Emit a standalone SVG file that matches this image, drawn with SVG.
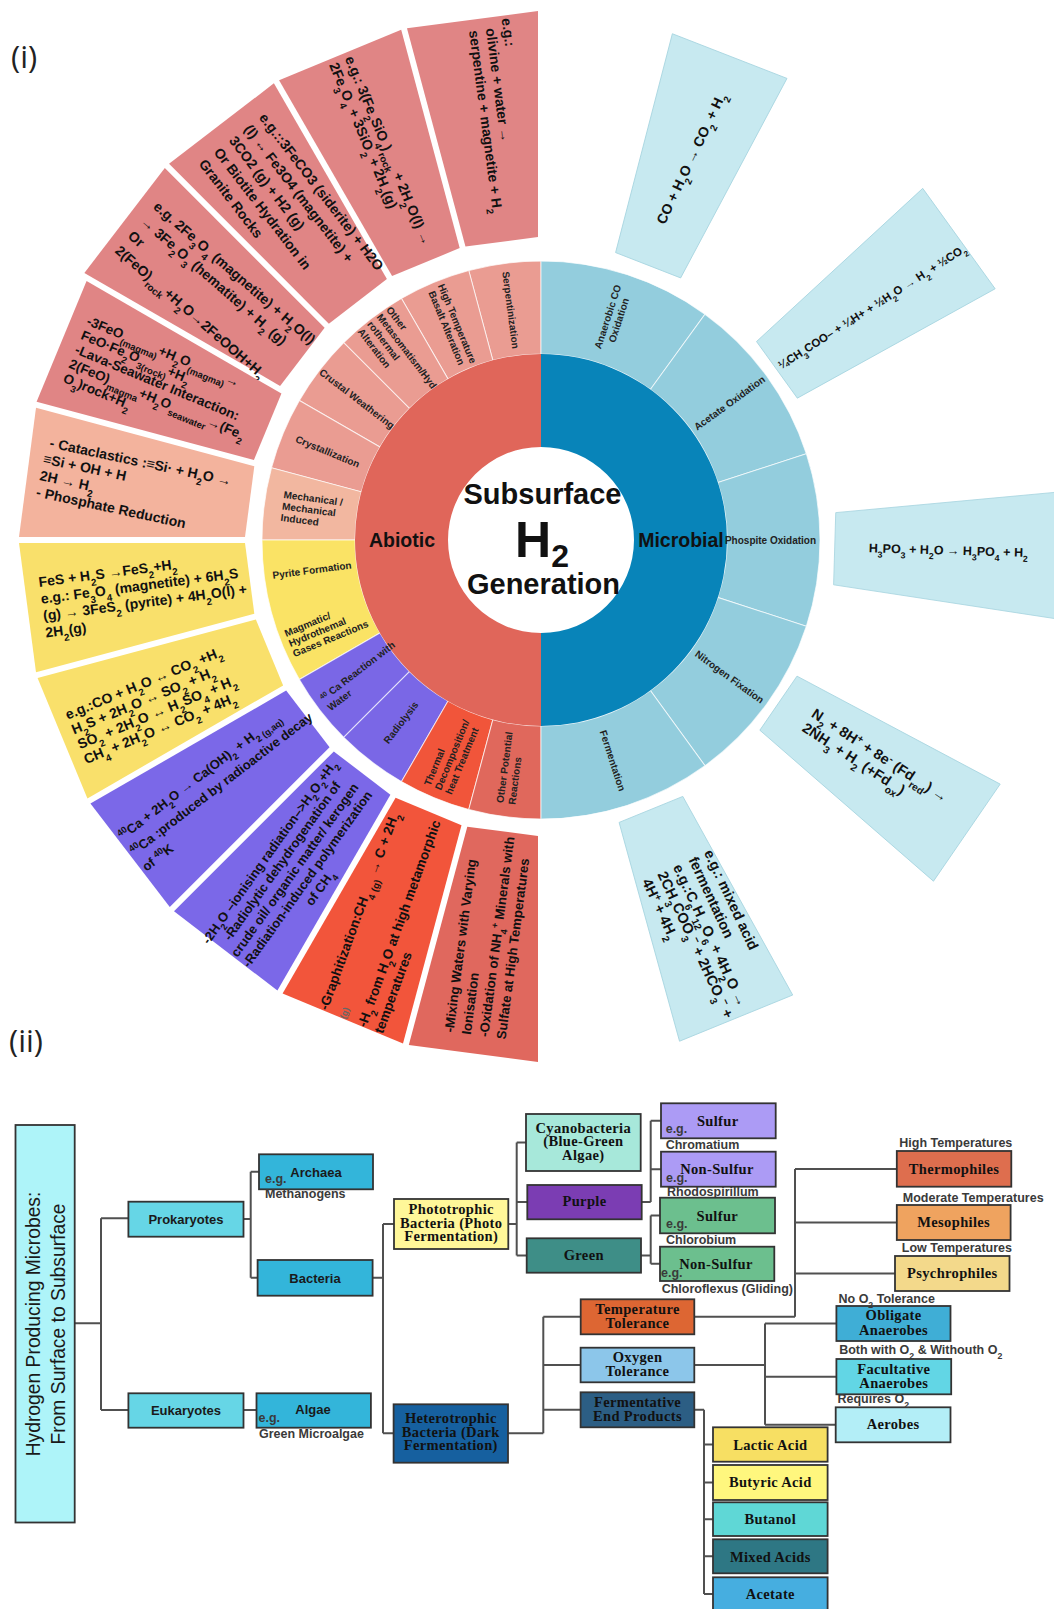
<svg xmlns="http://www.w3.org/2000/svg" width="1054" height="1609" viewBox="0 0 1054 1609">
<defs>
<style>
text{font-family:"Liberation Sans",Arial,sans-serif}
.bt{font-weight:bold;font-size:14px;fill:#111}
.rl{font-weight:bold;font-size:10px;fill:#222}
.s{font-size:70%;baseline-shift:sub}
.u{font-size:70%;baseline-shift:super}
.seg{stroke:#fff;stroke-width:1;stroke-opacity:.7}
.mb{fill:#C7E9F0;stroke:#A6D4DF;stroke-width:.8}
.nd{stroke:#333;stroke-width:1.8}
.ts{font-family:"Liberation Serif","Times New Roman",serif;font-weight:bold;font-size:14.5px;letter-spacing:.35px;fill:#111;text-anchor:middle}
.tn{font-weight:bold;font-size:13px;fill:#1a1a1a;text-anchor:middle}
.sm{font-weight:bold;font-size:12.5px;fill:#3a3a3a}
.cn{fill:none;stroke:#505050;stroke-width:2}
.c{text-anchor:middle}
</style>
<path id="s15" d="M276.61,-36.42A279,279 0 0 1 276.61,36.42L184.41,24.28A186,186 0 0 0 184.41,-24.28Z"/>
<path id="s30" d="M269.49,-72.21A279,279 0 0 1 269.49,72.21L179.66,48.14A186,186 0 0 0 179.66,-48.14Z"/>
<path id="s36" d="M265.35,-86.22A279,279 0 0 1 265.35,86.22L176.9,57.48A186,186 0 0 0 176.9,-57.48Z"/>
<polygon id="wA" points="300.8,-36.58 524.87,-66.08 524.87,66.08 300.8,36.58"/>
<polygon id="wE" points="295.84,-35.92 518.91,-65.29 518.91,65.29 295.84,35.92"/>
<polygon id="wF" points="293.86,-35.66 517.92,-65.16 517.92,65.16 293.86,35.66"/>
</defs>
<rect width="1054" height="1609" fill="#fff"/>

<text x="11" y="68" style="font-family:'Open Sans',sans-serif;font-size:31px;fill:#222">(i)</text>
<text x="9" y="1052" style="font-family:'Open Sans',sans-serif;font-size:31px;fill:#222">(ii)</text>

<!-- Abiotic outer boxes -->
<g id="box-serpentinization" transform="translate(541 540) rotate(262.5)">
<use href="#wA" fill="#E08585"/>
<text class="bt" transform="rotate(180)"><tspan x="-522" y="-29">e.g.:</tspan><tspan x="-514" y="-12">olivine + water →</tspan><tspan x="-514" y="5">serpentine + magnetite + H<tspan class="s">2</tspan></tspan></text>
</g>
<g id="box-basalt" transform="translate(541 540) rotate(247.5)">
<use href="#wA" fill="#E08585"/>
<text class="bt" transform="rotate(180)"><tspan x="-520" y="-3">e.g.: 3(Fe<tspan class="s">2</tspan>SiO<tspan class="s">4</tspan>)<tspan class="s">rock</tspan> + 2H<tspan class="s">2</tspan>O(l) →</tspan><tspan x="-520" y="14">2Fe<tspan class="s">3</tspan>O<tspan class="s">4</tspan> + 3SiO<tspan class="s">2</tspan> + 2H<tspan class="s">2</tspan>(g)</tspan></text>
</g>
<g id="box-metasomatism" transform="translate(541 540) rotate(232.5)">
<use href="#wA" fill="#E08585"/>
<text class="bt" transform="rotate(180)"><tspan x="-507" y="-33">e.g.::3FeCO3 (siderite) + H2O</tspan><tspan x="-507" y="-14">(l) ↔ Fe3O4 (magnetite) +</tspan><tspan x="-507" y="5">3CO2 (g) + H2 (g)</tspan><tspan x="-507" y="24">Or Biotite Hydration in</tspan><tspan x="-507" y="43">Granite Rocks</tspan></text>
</g>
<g id="box-weathering" transform="translate(541 540) rotate(217.5)">
<use href="#wA" fill="#E08585"/>
<text class="bt" transform="rotate(180) rotate(3.5 -512 0)"><tspan x="-512" y="-27">e.g. 2Fe<tspan class="s">3</tspan>O<tspan class="s">4</tspan> (magnetite) + H<tspan class="s">2</tspan>O(l)</tspan><tspan x="-512" y="-7.5">→ 3Fe<tspan class="s">2</tspan>O<tspan class="s">3</tspan> (hematite) + H<tspan class="s">2</tspan> (g)</tspan><tspan x="-512" y="12">Or</tspan><tspan x="-512" y="31.5">2(FeO)<tspan class="s">rock</tspan>+H<tspan class="s">2</tspan>O→2FeOOH+H<tspan class="s">2</tspan></tspan></text>
</g>
<g id="box-crystallization" transform="translate(541 540) rotate(202.5)">
<use href="#wE" fill="#E08585"/>
<text class="bt" style="font-size:13.5px" transform="rotate(180)"><tspan x="-503" y="-25">-3FeO<tspan class="s">(magma)</tspan>+H<tspan class="s">2</tspan>O<tspan class="s">(magma)</tspan>→</tspan><tspan x="-503" y="-9.5">FeO·Fe<tspan class="s">2</tspan>O<tspan class="s">3(rock)</tspan>+H<tspan class="s">2</tspan></tspan><tspan x="-503" y="6">-Lava-Seawater Interaction:</tspan><tspan x="-503" y="21.5">2(FeO)<tspan class="s">magma</tspan>+H<tspan class="s">2</tspan>O<tspan class="s">seawater</tspan>→(Fe<tspan class="s">2</tspan></tspan><tspan x="-503" y="37">O<tspan class="s">3</tspan>)rock+H<tspan class="s">2</tspan></tspan></text>
</g>
<g id="box-mechanical" transform="translate(541 540) rotate(187.5)">
<use href="#wF" fill="#F3B39D"/>
<text class="bt" transform="rotate(180) rotate(4.5 -505 0)"><tspan x="-502" y="-28">- Cataclastics :≡Si· + H<tspan class="s">2</tspan>O →</tspan><tspan x="-505" y="-11">≡Si + OH + H</tspan><tspan x="-505" y="6">2H → H<tspan class="s">2</tspan></tspan><tspan x="-505" y="23">- Phosphate Reduction</tspan></text>
</g>
<g id="box-pyrite" transform="translate(541 540) rotate(172.5)">
<use href="#wF" fill="#F9E06B"/>
<text class="bt" transform="rotate(180)"><tspan x="-503.5" y="-19">FeS + H<tspan class="s">2</tspan>S →FeS<tspan class="s">2</tspan>+H<tspan class="s">2</tspan></tspan><tspan x="-503.5" y="-2">e.g.: Fe<tspan class="s">3</tspan>O<tspan class="s">4</tspan> (magnetite) + 6H<tspan class="s">2</tspan>S</tspan><tspan x="-503.5" y="15">(g) → 3FeS<tspan class="s">2</tspan> (pyrite) + 4H<tspan class="s">2</tspan>O(l) +</tspan><tspan x="-503.5" y="32">2H<tspan class="s">2</tspan>(g)</tspan></text>
</g>
<g id="box-magmatic" transform="translate(541 540) rotate(157.5)">
<use href="#wF" fill="#F9E06B"/>
<text class="bt" transform="rotate(180)"><tspan x="-506" y="-15">e.g.:CO + H<tspan class="s">2</tspan>O ↔ CO<tspan class="s">2</tspan> +H<tspan class="s">2</tspan></tspan><tspan x="-506" y="1">H<tspan class="s">2</tspan>S + 2H<tspan class="s">2</tspan>O ↔ SO<tspan class="s">2</tspan> + H<tspan class="s">2</tspan></tspan><tspan x="-506" y="17">SO<tspan class="s">2</tspan> + 2H<tspan class="s">2</tspan>O ↔ H<tspan class="s">2</tspan>SO<tspan class="s">4</tspan> + H<tspan class="s">2</tspan></tspan><tspan x="-506" y="33">CH<tspan class="s">4</tspan> + 2H<tspan class="s">2</tspan>O ↔ CO<tspan class="s">2</tspan> + 4H<tspan class="s">2</tspan></tspan></text>
</g>
<g id="box-ca40" transform="translate(541 540) rotate(142.5)">
<use href="#wF" fill="#7B68E8"/>
<text class="bt" style="font-size:13px" transform="rotate(180)"><tspan x="-515" y="-16"><tspan class="u">40</tspan>Ca + 2H<tspan class="s">2</tspan>O → Ca(OH)<tspan class="s">2</tspan> + H<tspan class="s">2 (g,aq)</tspan></tspan><tspan x="-515" y="3.5"><tspan class="u">40</tspan>Ca :produced by radioactive decay</tspan><tspan x="-515" y="23">of <tspan class="u">40</tspan>K</tspan></text>
</g>
<g id="box-radiolysis" transform="translate(541 540) rotate(127.5)">
<use href="#wF" fill="#7B68E8"/>
<text class="bt c" style="font-size:13px" transform="rotate(180) rotate(-2 -412 0)"><tspan x="-412" y="-21">-2H<tspan class="s">2</tspan>O –ionising radiation–&gt;H<tspan class="s">2</tspan>O<tspan class="s">2</tspan>+H<tspan class="s">2</tspan></tspan><tspan x="-412" y="-5.5">-Radiolytic dehydrogenation of</tspan><tspan x="-412" y="10">crude oil/ organic matter/ kerogen</tspan><tspan x="-412" y="25.5">-Radiation-induced polymerization</tspan><tspan x="-412" y="41">of CH<tspan class="s">4</tspan></tspan></text>
</g>
<g id="box-thermal" transform="translate(541 540) rotate(112.5)">
<use href="#wF" fill="#F2553B"/>
<text class="bt" style="font-size:13.5px" transform="rotate(180) rotate(-2.5 -518 0)"><tspan x="-516" y="-17">-Graphitization:CH<tspan class="s">4</tspan> <tspan class="s">(g)</tspan> → C + 2H<tspan class="s">2</tspan></tspan><tspan x="-518" y="3" style="font-size:9px;fill:#666">(g)</tspan><tspan x="-519" y="25">-H<tspan class="s">2</tspan> from H<tspan class="s">2</tspan>O at high metamorphic</tspan><tspan x="-519" y="43">temperatures</tspan></text>
</g>
<g id="box-other" transform="translate(541 540) rotate(97.5)">
<use href="#wF" fill="#E0685E"/>
<text class="bt" style="font-size:13.2px" transform="rotate(180)"><tspan x="-500" y="-22.5">-Mixing Waters with Varying</tspan><tspan x="-500" y="-5">Ionisation</tspan><tspan x="-500" y="12.5">-Oxidation of NH<tspan class="s">4</tspan><tspan class="u">+</tspan> Minerals with</tspan><tspan x="-500" y="30">Sulfate at High Temperatures</tspan></text>
</g>

<!-- Microbial outer boxes -->
<g id="box-co" transform="translate(541 540) rotate(291.3)">
<polygon class="mb" points="294.9,-34.9 519.4,-61.5 519.4,61.5 294.9,34.9"/>
<text class="bt c" transform="rotate(4 410 1.4)" x="410" y="6">CO + H<tspan class="s">2</tspan>O → CO<tspan class="s">2</tspan> + H<tspan class="s">2</tspan></text>
</g>
<g id="box-acetate" transform="translate(541 540) rotate(324.2)">
<polygon class="mb" points="290.9,-34.9 515.3,-61.9 515.3,61.9 290.9,34.9"/>
<text class="bt c" style="font-size:11.5px" transform="rotate(3.2 405 4.5)" x="405" y="8.5">¼CH<tspan class="s">3</tspan>COO– + ¼H+ + ½H<tspan class="s">2</tspan>O → H<tspan class="s">2</tspan> + ½CO<tspan class="s">2</tspan></text>
</g>
<g id="box-phosphite" transform="translate(541 540) rotate(1.7)">
<polygon class="mb" points="293.8,-36.1 555.8,-68.2 555.8,68.2 293.8,36.1"/>
<text class="bt c" style="font-size:12.5px" x="407.5" y="2.5">H<tspan class="s">3</tspan>PO<tspan class="s">3</tspan> + H<tspan class="s">2</tspan>O → H<tspan class="s">3</tspan>PO<tspan class="s">4</tspan> + H<tspan class="s">2</tspan></text>
</g>
<g id="box-nitrogen">
<polygon class="mb" transform="translate(541 540) rotate(34.5)" points="288.1,-32.8 516.7,-58.9 516.7,58.9 288.1,32.8"/>
<text class="bt" style="font-size:14.5px" transform="translate(541 540) rotate(33)"><tspan x="322" y="1">N<tspan class="s">2</tspan> + 8H<tspan class="u">+</tspan> + 8e<tspan class="u">-</tspan> (Fd<tspan class="s">red</tspan>) →</tspan><tspan x="322" y="18">2NH<tspan class="s">3</tspan> + H<tspan class="s">2</tspan> (+Fd<tspan class="s">ox</tspan>)</tspan></text>
</g>
<g id="box-fermentation">
<polygon class="mb" transform="translate(541 540) rotate(67.8)" points="291,-34.4 516.4,-61.1 516.4,61.1 291,34.4"/>
<text class="bt" style="font-size:14.5px" transform="translate(541 540) rotate(65)"><tspan x="352" y="-15.4">e.g.: mixed acid</tspan><tspan x="352" y="1.7">fermentation</tspan><tspan x="352" y="18.8">e.g.:C<tspan class="s">6</tspan>H<tspan class="s">12</tspan>O<tspan class="s">6</tspan> + 4H<tspan class="s">2</tspan>O →</tspan><tspan x="352" y="35.9">2CH<tspan class="s">3</tspan>COO<tspan class="s">3</tspan><tspan class="u">−</tspan> + 2HCO<tspan class="s">3</tspan><tspan class="u">−</tspan> +</tspan><tspan x="352" y="53">4H<tspan class="u">+</tspan> + 4H<tspan class="s">2</tspan></tspan></text>
</g>

<!-- Outer ring -->
<g id="outer-ring" class="seg">
<use href="#s15" fill="#EA9C92" transform="translate(541 540) rotate(262.5)"/>
<use href="#s15" fill="#EA9C92" transform="translate(541 540) rotate(247.5)"/>
<use href="#s15" fill="#EA9C92" transform="translate(541 540) rotate(232.5)"/>
<use href="#s15" fill="#EA9C92" transform="translate(541 540) rotate(217.5)"/>
<use href="#s15" fill="#EA9C92" transform="translate(541 540) rotate(202.5)"/>
<use href="#s15" fill="#F2B7A0" transform="translate(541 540) rotate(187.5)"/>
<use href="#s30" fill="#FAE365" transform="translate(541 540) rotate(165)"/>
<use href="#s15" fill="#7A67E6" transform="translate(541 540) rotate(142.5)"/>
<use href="#s15" fill="#7A67E6" transform="translate(541 540) rotate(127.5)"/>
<use href="#s15" fill="#F1553A" transform="translate(541 540) rotate(112.5)"/>
<use href="#s15" fill="#E0685C" transform="translate(541 540) rotate(97.5)"/>
<use href="#s36" fill="#93CDDD" transform="translate(541 540) rotate(288)"/>
<use href="#s36" fill="#93CDDD" transform="translate(541 540) rotate(324)"/>
<use href="#s36" fill="#93CDDD" transform="translate(541 540) rotate(0)"/>
<use href="#s36" fill="#93CDDD" transform="translate(541 540) rotate(36)"/>
<use href="#s36" fill="#93CDDD" transform="translate(541 540) rotate(72)"/>
</g>

<!-- Middle ring -->
<g id="mid-ring">
<path d="M541,354A186,186 0 0 0 541,726L541,633A93,93 0 0 1 541,447Z" fill="#E0665A"/>
<path d="M541,354A186,186 0 0 1 541,726L541,633A93,93 0 0 0 541,447Z" fill="#0884B9"/>
<text x="402" y="546.5" class="c" style="font-weight:bold;font-size:19.5px;fill:#111">Abiotic</text>
<text x="681" y="546.5" class="c" style="font-weight:bold;font-size:19.5px;fill:#111">Microbial</text>
</g>

<!-- Ring labels -->
<g id="ring-labels" class="rl">
<g transform="translate(541 540) rotate(262.5)"><text transform="rotate(180)" class="c" x="-232" y="3.5">Serpentinization</text></g>
<g transform="translate(541 540) rotate(247.5)"><text transform="rotate(180)" class="c"><tspan x="-232" y="-2">High Temperature</tspan><tspan x="-232" y="9.5">Basalt Alteration</tspan></text></g>
<g transform="translate(541 540) rotate(232.5)"><text transform="rotate(180)"><tspan x="-277" y="-17">Other</tspan><tspan x="-277" y="-5">Metasomatism/Hyd</tspan><tspan x="-277" y="7">rothermal</tspan><tspan x="-277" y="19">Alteration</tspan></text></g>
<g transform="translate(541 540) rotate(217.5)"><text transform="rotate(180)" class="c" x="-232" y="3.5">Crustal Weathering</text></g>
<g transform="translate(541 540) rotate(202.5)"><text transform="rotate(180)" class="c" x="-231" y="3.5">Crystallization</text></g>
<g transform="translate(541 540) rotate(187.5)"><text transform="rotate(180)"><tspan x="-261" y="-8">Mechanical /</tspan><tspan x="-261" y="3.5">Mechanical</tspan><tspan x="-261" y="15">Induced</tspan></text></g>
<g transform="translate(541 540) rotate(172.5)"><text transform="rotate(180)" class="c" x="-231" y="3.5">Pyrite Formation</text></g>
<g transform="translate(541 540) rotate(157.5)"><text transform="rotate(180)"><tspan x="-272.5" y="-8">Magmatic/</tspan><tspan x="-272.5" y="3">Hydrothemal</tspan><tspan x="-272.5" y="14">Gases Reactions</tspan></text></g>
<g transform="translate(541 540) rotate(142.5)"><text transform="rotate(180)"><tspan x="-271" y="-4"><tspan class="u">40</tspan> Ca Reaction with</tspan><tspan x="-271" y="8">Water</tspan></text></g>
<g transform="translate(541 540) rotate(127.5)"><text transform="rotate(180)" class="c" x="-230" y="3.5">Radiolysis</text></g>
<g transform="translate(541 540) rotate(112.5)"><text transform="rotate(180)"><tspan x="-270" y="-8">Thermal</tspan><tspan x="-270" y="3.5">Decomposition/</tspan><tspan x="-270" y="15">heat Treatment</tspan></text></g>
<g transform="translate(541 540) rotate(97.5)"><text transform="rotate(180)"><tspan x="-266" y="-3">Other Potential</tspan><tspan x="-266" y="9">Reactions</tspan></text></g>
<g transform="translate(541 540) rotate(288)"><text class="c"><tspan x="233" y="-2">Anaerobic CO</tspan><tspan x="233" y="9.5">Oxidation</tspan></text></g>
<g transform="translate(541 540) rotate(324)"><text class="c" x="233" y="3.5">Acetate Oxidation</text></g>
<g transform="translate(541 540)"><text class="c" x="229.5" y="3.5">Phospite Oxidation</text></g>
<g transform="translate(541 540) rotate(36)"><text class="c" x="233" y="3.5">Nitrogen Fixation</text></g>
<g transform="translate(541 540) rotate(72)"><text class="c" x="232" y="3.5">Fermentation</text></g>
</g>

<!-- Centre -->
<g id="centre-title" style="fill:#111">
<text x="542.5" y="503.5" class="c" style="font-weight:bold;font-size:29px">Subsurface</text>
<text x="542" y="557" class="c" style="font-weight:bold;font-size:50px">H<tspan style="font-size:32px" dy="10">2</tspan></text>
<text x="543.5" y="593.5" class="c" style="font-weight:bold;font-size:29px">Generation</text>
</g>

<!-- Tree connectors -->
<g id="connectors" class="cn">
<path d="M74.7 1323.3H101M101 1218.3V1410M101 1218.3H128.4M101 1410H128.4"/>
<path d="M243.5 1219H250.7M250.7 1171.8V1277.8M250.7 1171.8H259M250.7 1277.8H257.6"/>
<path d="M243.5 1410H256.5"/>
<path d="M372.6 1277.8H383M383 1224V1433.3M383 1224H394M383 1433.3H393.6"/>
<path d="M508.3 1224H516.7M516.7 1142.5V1255.5M516.7 1142.5H526M516.7 1202H527.3M516.7 1255.5H526.7"/>
<path d="M641.7 1202H650.7M650.7 1120.8V1202M650.7 1120.8H661M650.7 1169.2H661"/>
<path d="M641 1255.5H650.7M650.7 1215.5V1263.8M650.7 1215.5H660M650.7 1263.8H660"/>
<path d="M508 1433.3H543.3M543.3 1316.8V1433.3M543.3 1316.8H580.7M543.3 1365H580.6M543.3 1409.8H580.6"/>
<path d="M694.3 1316.8H795M795 1168.9V1316.8M795 1168.9H896.8M795 1222.5H896.8M795 1273.5H895"/>
<path d="M694.3 1365H765M765 1323.5V1424.8M765 1323.5H836.4M765 1376.7H836.4M765 1424.8H835.7"/>
<path d="M694.3 1409.8H704M704 1409.8V1594M704 1444.5H713M704 1482.5H713M704 1519.2H713M704 1556.3H713M704 1594H713"/>
</g>

<!-- Tree nodes -->
<g id="n-root"><rect class="nd" x="15.5" y="1125" width="59.2" height="397.5" fill="#AEF4F9"/>
<text style="font-size:19.3px;fill:#1a1a1a" class="c" transform="translate(40 1324) rotate(-90)">Hydrogen Producing Microbes:</text>
<text style="font-size:19.3px;fill:#1a1a1a" class="c" transform="translate(64.5 1324) rotate(-90)">From Surface to Subsurface</text></g>
<g id="n-prokaryotes"><rect class="nd" x="128.4" y="1201.7" width="115.1" height="35" fill="#66D6E6"/><text class="tn" x="186" y="1223.5">Prokaryotes</text></g>
<g id="n-eukaryotes"><rect class="nd" x="128.4" y="1393.3" width="115.1" height="34.4" fill="#66D6E6"/><text class="tn" x="186" y="1415">Eukaryotes</text></g>
<g id="n-archaea"><rect class="nd" x="259" y="1154.3" width="114" height="35" fill="#33B5DA"/><text class="tn" x="316" y="1177">Archaea</text><text class="sm" x="265" y="1183">e.g.</text><text class="sm" x="265" y="1198">Methanogens</text></g>
<g id="n-bacteria"><rect class="nd" x="257.6" y="1260" width="115" height="35.7" fill="#33B5DA"/><text class="tn" x="315" y="1282.5">Bacteria</text></g>
<g id="n-algae"><rect class="nd" x="256.5" y="1393.3" width="114.4" height="34.4" fill="#33B5DA"/><text class="tn" x="313" y="1414.3">Algae</text><text class="sm" x="258.5" y="1422">e.g.</text><text class="sm" x="259" y="1437.5">Green Microalgae</text></g>
<g id="n-phototrophic"><rect class="nd" x="394" y="1199" width="114.3" height="50" fill="#FFF799"/><text class="ts"><tspan x="451.2" y="1214">Phototrophic</tspan><tspan x="451.2" y="1227.5">Bacteria (Photo</tspan><tspan x="451.2" y="1241">Fermentation)</tspan></text></g>
<g id="n-heterotrophic"><rect class="nd" x="393.6" y="1404.3" width="114.4" height="58.4" fill="#16609F"/><text class="ts"><tspan x="450.8" y="1423">Heterotrophic</tspan><tspan x="450.8" y="1436.5">Bacteria (Dark</tspan><tspan x="450.8" y="1450">Fermentation)</tspan></text></g>
<g id="n-cyanobacteria"><rect class="nd" x="526" y="1114" width="114.7" height="57" fill="#A7E8DA"/><text class="ts"><tspan x="583.3" y="1132.5">Cyanobacteria</tspan><tspan x="583.3" y="1146">(Blue-Green</tspan><tspan x="583.3" y="1159.5">Algae)</tspan></text></g>
<g id="n-purple"><rect class="nd" x="527.3" y="1185" width="114.4" height="34.3" fill="#7B3DB3"/><text class="ts" x="584.5" y="1206">Purple</text></g>
<g id="n-green"><rect class="nd" x="526.7" y="1238.3" width="114.3" height="34.4" fill="#3E8E87"/><text class="ts" x="583.8" y="1260">Green</text></g>
<g id="n-purple-sulfur"><rect class="nd" x="661" y="1103.3" width="114.7" height="35" fill="#AC9BF5"/><text class="ts" x="717.7" y="1126">Sulfur</text><text class="sm" x="665.7" y="1133">e.g.</text><text class="sm" x="665.7" y="1148.5">Chromatium</text></g>
<g id="n-purple-nonsulfur"><rect class="nd" x="661" y="1151.7" width="114.7" height="35" fill="#AC9BF5"/><text class="ts" x="717" y="1174">Non-Sulfur</text><text class="sm" x="666" y="1181.5">e.g.</text><text class="sm" x="667" y="1195.5">Rhodospirillum</text></g>
<g id="n-green-sulfur"><rect class="nd" x="660" y="1197.7" width="115" height="35.6" fill="#6CBF8E"/><text class="ts" x="717.3" y="1220.5">Sulfur</text><text class="sm" x="666" y="1228">e.g.</text><text class="sm" x="666" y="1244">Chlorobium</text></g>
<g id="n-green-nonsulfur"><rect class="nd" x="660" y="1246.7" width="114.3" height="34.3" fill="#6CBF8E"/><text class="ts" x="716" y="1269">Non-Sulfur</text><text class="sm" x="661" y="1277">e.g.</text><text class="sm" x="661.7" y="1292.5">Chloroflexus (Gliding)</text></g>
<g id="n-temperature"><rect class="nd" x="580.7" y="1299.3" width="113.6" height="35" fill="#DD6633"/><text class="ts"><tspan x="637.5" y="1314">Temperature</tspan><tspan x="637.5" y="1327.5">Tolerance</tspan></text></g>
<g id="n-oxygen"><rect class="nd" x="580.6" y="1347.7" width="113.7" height="34.6" fill="#8CC6EA"/><text class="ts"><tspan x="637.5" y="1362">Oxygen</tspan><tspan x="637.5" y="1376">Tolerance</tspan></text></g>
<g id="n-fermentative"><rect class="nd" x="580.6" y="1392.3" width="113.7" height="35" fill="#2C5E84"/><text class="ts"><tspan x="637.5" y="1406.5">Fermentative</tspan><tspan x="637.5" y="1420.5">End Products</tspan></text></g>
<g id="n-thermophiles"><rect class="nd" x="896.8" y="1151" width="114.5" height="35.7" fill="#DE6E4E"/><text class="ts" x="954" y="1173.5">Thermophiles</text><text class="sm" x="899.3" y="1147.3">High Temperatures</text></g>
<g id="n-mesophiles"><rect class="nd" x="896.8" y="1205" width="113.8" height="35" fill="#EFA35F"/><text class="ts" x="953.7" y="1227">Mesophiles</text><text class="sm" x="902.8" y="1202.3">Moderate Temperatures</text></g>
<g id="n-psychrophiles"><rect class="nd" x="895" y="1256" width="114.5" height="35" fill="#F3D98B"/><text class="ts" x="952.3" y="1277.5">Psychrophiles</text><text class="sm" x="901.8" y="1252.3">Low Temperatures</text></g>
<g id="n-obligate"><rect class="nd" x="836.4" y="1306" width="114.1" height="35" fill="#3FAED6"/><text class="ts"><tspan x="893.5" y="1319.5">Obligate</tspan><tspan x="893.5" y="1335">Anaerobes</tspan></text><text class="sm" x="838.5" y="1303">No O<tspan class="s">2</tspan> Tolerance</text></g>
<g id="n-facultative"><rect class="nd" x="836.4" y="1359" width="114.8" height="35.3" fill="#62D6E5"/><text class="ts"><tspan x="893.8" y="1374">Facultative</tspan><tspan x="893.8" y="1387.5">Anaerobes</tspan></text><text class="sm" x="839.2" y="1354">Both with O<tspan class="s">2</tspan> &amp; Withouth O<tspan class="s">2</tspan></text></g>
<g id="n-aerobes"><rect class="nd" x="835.7" y="1407.3" width="114.8" height="35" fill="#B3EEF7"/><text class="ts" x="893.1" y="1429">Aerobes</text><text class="sm" x="837.5" y="1403.3">Requires O<tspan class="s">2</tspan></text></g>
<g id="n-lactic"><rect class="nd" x="713" y="1427.3" width="114.6" height="34.4" fill="#F7DF63"/><text class="ts" x="770.3" y="1450">Lactic Acid</text></g>
<g id="n-butyric"><rect class="nd" x="713" y="1465" width="114.6" height="35" fill="#FFF77E"/><text class="ts" x="770.3" y="1486.5">Butyric Acid</text></g>
<g id="n-butanol"><rect class="nd" x="713" y="1502.3" width="114.6" height="33.7" fill="#5FD7D6"/><text class="ts" x="770.3" y="1524">Butanol</text></g>
<g id="n-mixed"><rect class="nd" x="713" y="1539.3" width="114.6" height="34" fill="#2E7784"/><text class="ts" x="770.3" y="1561.5">Mixed Acids</text></g>
<g id="n-acetate"><rect class="nd" x="713" y="1577.3" width="114.6" height="40" fill="#46AEE0"/><text class="ts" x="770.3" y="1599">Acetate</text></g>
</svg>
